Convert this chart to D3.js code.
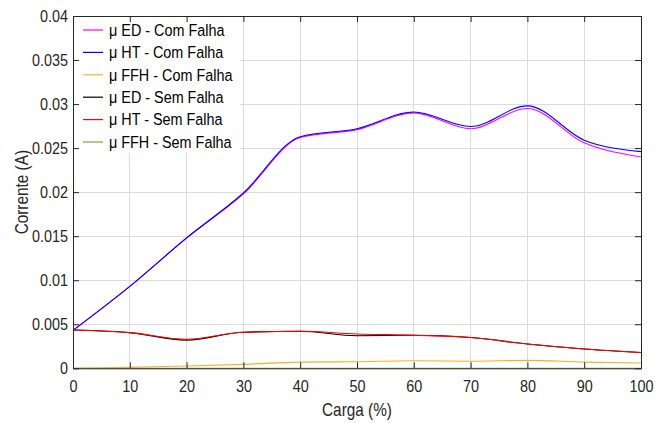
<!DOCTYPE html>
<html>
<head>
<meta charset="utf-8">
<script src="https://cdn.jsdelivr.net/npm/d3@7"></script>
<style>
  body { margin: 0; background: #fff; }
  svg { display: block; font-family: "Liberation Sans", Arial, sans-serif; }
</style>
</head>
<body>
<svg id="chart" width="664" height="423"></svg>
<script>
const carga = [0, 10, 20, 30, 40, 50, 60, 70, 80, 90, 100];

const edCom  = [0.0043, 0.0093, 0.0148, 0.0198, 0.0262, 0.0271, 0.0290, 0.0272, 0.0295, 0.0256, 0.0240];
const htCom  = [0.0043, 0.0093, 0.0148, 0.0199, 0.0263, 0.0272, 0.0291, 0.02745, 0.0298, 0.0259, 0.0246];
const ffhCom = [0.0000, 0.0001, 0.00026, 0.00045, 0.0007, 0.00075, 0.00086, 0.0008, 0.0009, 0.0007, 0.0006];
const edSem  = [0.00435, 0.00405, 0.0032, 0.0041, 0.0042, 0.0037, 0.00375, 0.0035, 0.00276, 0.0022, 0.0018];
const htSem  = [0.00435, 0.00405, 0.0033, 0.0041, 0.0042, 0.0039, 0.00375, 0.0035, 0.00276, 0.0022, 0.0018];
const ffhSem = [0, 0, 0, 0, 0, 0, 0, 0, 0, 0, 0];

const seriesNames  = ["\u03bc ED - Com Falha", "\u03bc HT - Com Falha", "\u03bc FFH - Com Falha",
                      "\u03bc ED - Sem Falha", "\u03bc HT - Sem Falha", "\u03bc FFH - Sem Falha"];
const seriesValues = [edCom, htCom, ffhCom, edSem, htSem, ffhSem];
const seriesColors = ["#ff00ff", "#0000ff", "#f0b030", "#000000", "#ff0000", "#77ac30"];
const drawOrder = [5, 2, 3, 4, 0, 1];

const xTicks = [0, 10, 20, 30, 40, 50, 60, 70, 80, 90, 100];
const yTicks = [0, 0.005, 0.01, 0.015, 0.02, 0.025, 0.03, 0.035, 0.04];

const margin = { left: 73, right: 23, top: 16, bottom: 55 };
const W = 664, H = 423;
const svg = d3.select("#chart");

const x = d3.scaleLinear().domain([0, 100]).range([margin.left, W - margin.right]);
const y = d3.scaleLinear().domain([0, 0.04]).range([H - margin.bottom + 0.3, margin.top]);

const axisColor = "#262626";
const gridColor = "#dcdcdc";
const SX = 0.96, SY = 1.1;

// grid
const grid = svg.append("g");
grid.selectAll("line.v").data(xTicks.slice(1, -1)).join("line")
  .attr("x1", d => x(d)).attr("x2", d => x(d))
  .attr("y1", y(0)).attr("y2", y(0.04))
  .attr("stroke", gridColor).attr("stroke-width", 1).attr("shape-rendering", "crispEdges");
grid.selectAll("line.h").data(yTicks.slice(1, -1)).join("line")
  .attr("x1", x(0)).attr("x2", x(100))
  .attr("y1", d => y(d)).attr("y2", d => y(d))
  .attr("stroke", gridColor).attr("stroke-width", 1).attr("shape-rendering", "crispEdges");

// legend background (covers grid)
svg.append("rect").attr("x", x(0) + 1).attr("y", y(0.04) + 1).attr("width", 166).attr("height", 136)
  .attr("fill", "#fff");

// lines
const line = d3.line().curve(d3.curveMonotoneX);
const linesG = svg.append("g");
drawOrder.forEach(i => {
  linesG.append("path")
    .datum(carga.map((c, k) => [x(c), y(seriesValues[i][k])]))
    .attr("d", line)
    .attr("fill", "none")
    .attr("stroke", seriesColors[i])
    .attr("stroke-width", 1.1);
});

// axes
function styleAxis(g) {
  g.select(".domain").attr("stroke", axisColor);
  g.selectAll(".tick line").attr("stroke", axisColor);
  g.selectAll(".tick text").attr("fill", "#262626").attr("font-size", "15px")
    .attr("font-family", "'Liberation Sans', Arial, sans-serif");
}
function stretch(sel, tx, ty) {
  sel.attr("x", 0).attr("y", 0).attr("transform", `translate(${tx},${ty}) scale(${SX},${SY})`);
}
const fmtY = d => d === 0 ? "0" : d3.format("~g")(+d.toFixed(4));

svg.append("g").attr("transform", `translate(0,${y(0)})`)
  .call(d3.axisBottom(x).tickValues(xTicks).tickSize(-6).tickSizeOuter(0).tickFormat(d3.format("d")))
  .call(styleAxis)
  .call(g => stretch(g.selectAll(".tick text"), 0, 12));

svg.append("g").attr("transform", `translate(${x(0)},0)`)
  .call(d3.axisLeft(y).tickValues(yTicks).tickSize(-6).tickSizeOuter(0).tickFormat(fmtY))
  .call(styleAxis)
  .call(g => stretch(g.selectAll(".tick text"), -5, 0));

svg.append("g").attr("transform", `translate(0,${y(0.04)})`)
  .call(d3.axisTop(x).tickValues(xTicks).tickSize(-6).tickSizeOuter(0).tickFormat(""))
  .call(styleAxis);

svg.append("g").attr("transform", `translate(${x(100)},0)`)
  .call(d3.axisRight(y).tickValues(yTicks).tickSize(-6).tickSizeOuter(0).tickFormat(""))
  .call(styleAxis);

// axis labels
svg.append("text")
  .attr("transform", `translate(${(x(0) + x(100)) / 2},416) scale(${SX},${SY})`)
  .attr("text-anchor", "middle").attr("font-size", "16px").attr("fill", "#262626")
  .text("Carga (%)");
svg.append("text")
  .attr("transform", `translate(28,${(y(0) + y(0.04)) / 2}) rotate(-90) scale(${SX},${SY})`)
  .attr("text-anchor", "middle").attr("font-size", "16px").attr("fill", "#262626")
  .text("Corrente (A)");

// legend
const leg = svg.append("g");
seriesNames.forEach((name, i) => {
  const ly = 30 + i * 22.4;
  leg.append("line").attr("x1", 83).attr("x2", 103).attr("y1", ly).attr("y2", ly)
    .attr("stroke", seriesColors[i]).attr("stroke-width", 1.2);
  leg.append("text").attr("transform", `translate(109,${ly}) scale(${SX},${SY})`)
    .attr("dy", "0.35em")
    .attr("font-size", "15px").attr("fill", "#000").text(name);
});
</script>
</body>
</html>
